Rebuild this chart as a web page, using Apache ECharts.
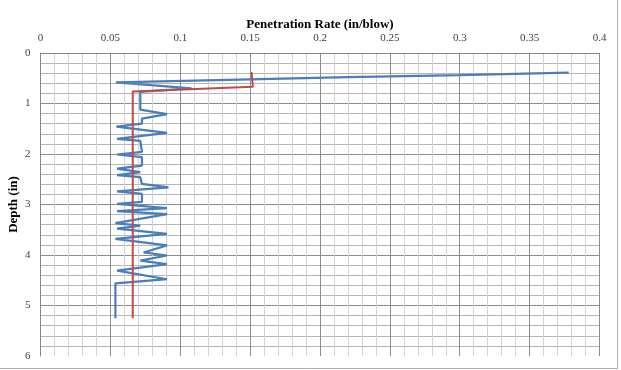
<!DOCTYPE html>
<html>
<head>
<meta charset="utf-8">
<script src="https://cdn.jsdelivr.net/npm/echarts@6/dist/echarts.min.js"></script>
<style>
html,body{margin:0;padding:0;background:#fff;}
#chart{width:621px;height:370px;}
</style>
</head>
<body>
<div id="chart"></div>
<script>
// Measured penetration rate (in/blow) vs depth (in)
const measuredRate = [0.378, 0.30, 0.22, 0.15, 0.054, 0.108, 0.0714, 0.0714, 0.0905, 0.0726, 0.0726, 0.0543, 0.0905, 0.0548, 0.0714, 0.0726, 0.0548, 0.0726, 0.0726, 0.0548, 0.0714, 0.0548, 0.0714, 0.0726, 0.0916, 0.0548, 0.0726, 0.0726, 0.0548, 0.0905, 0.0548, 0.0905, 0.0536, 0.0714, 0.0548, 0.0905, 0.0536, 0.0905, 0.0738, 0.0905, 0.0714, 0.0905, 0.0548, 0.0905, 0.0536, 0.0536];
const measuredDepth = [0.39, 0.44, 0.48, 0.52, 0.58, 0.70, 0.77, 1.12, 1.21, 1.30, 1.40, 1.46, 1.58, 1.70, 1.74, 1.96, 2.01, 2.06, 2.23, 2.29, 2.36, 2.42, 2.46, 2.59, 2.66, 2.74, 2.79, 2.95, 2.99, 3.07, 3.13, 3.19, 3.37, 3.42, 3.48, 3.58, 3.68, 3.81, 3.95, 4.01, 4.11, 4.18, 4.31, 4.48, 4.56, 5.25];
// Average rate (red)
const avgRate = [0.151, 0.152, 0.066, 0.066];
const avgDepth = [0.38, 0.67, 0.76, 5.25];

const xTitle = 'Penetration Rate (in/blow)';
const yTitle = 'Depth (in)';

const chart = echarts.init(document.getElementById('chart'));
const serif = '"Liberation Serif", "Times New Roman", serif';
const pair = (xs, ys) => xs.map((v, i) => [v, ys[i]]);

chart.setOption({
  animation: false,
  backgroundColor: '#ffffff',
  grid: { left: 40.5, right: 21.5, top: 53, bottom: 14, containLabel: false, outerBoundsMode: 'none' },
  xAxis: {
    type: 'value', position: 'top', min: 0, max: 0.4, interval: 0.05,
    name: xTitle, nameLocation: 'middle', nameGap: 22, nameMoveOverlap: false,
    nameTextStyle: { fontFamily: serif, fontWeight: 'bold', fontSize: 13, color: '#000' },
    axisLine: { show: true, lineStyle: { color: '#868686', width: 1 } },
    axisTick: { show: false },
    axisLabel: { fontFamily: serif, fontSize: 11, color: '#404040', margin: 9,
      formatter: v => String(+v.toFixed(2)) },
    splitLine: { show: true, lineStyle: { color: '#8c8c8c', width: 1 } },
    minorTick: { show: false, splitNumber: 5 },
    minorSplitLine: { show: true, lineStyle: { color: '#d2d2d2', width: 1 } }
  },
  yAxis: {
    type: 'value', inverse: true, min: 0, max: 6, interval: 1,
    name: yTitle, nameLocation: 'middle', nameGap: 20, nameRotate: 90, nameMoveOverlap: false,
    nameTextStyle: { fontFamily: serif, fontWeight: 'bold', fontSize: 13, color: '#000' },
    axisLine: { show: true, lineStyle: { color: '#868686', width: 1 } },
    axisTick: { show: false },
    axisLabel: { fontFamily: serif, fontSize: 11, color: '#404040', margin: 10 },
    splitLine: { show: true, showMaxLine: false, lineStyle: { color: '#8c8c8c', width: 1 } },
    minorTick: { show: false, splitNumber: 5 },
    minorSplitLine: { show: true, lineStyle: { color: '#b4b4b4', width: 1 } }
  },
  graphic: [{
    type: 'rect', silent: true, z: -1,
    shape: { x: -5, y: -5, width: 622.5, height: 373.5 },
    style: { fill: 'none', stroke: '#b0b0b0', lineWidth: 1 }
  }],
  series: [
    {
      type: 'line', name: 'Measured', data: pair(measuredRate, measuredDepth),
      showSymbol: false, symbol: 'none', smooth: false,
      lineStyle: { color: '#4a7ebb', width: 2.25 }, z: 3
    },
    {
      type: 'line', name: 'Average', data: pair(avgRate, avgDepth),
      showSymbol: false, symbol: 'none',
      lineStyle: { color: '#be4b48', width: 2 }, z: 4
    }
  ]
});
</script>
</body>
</html>
